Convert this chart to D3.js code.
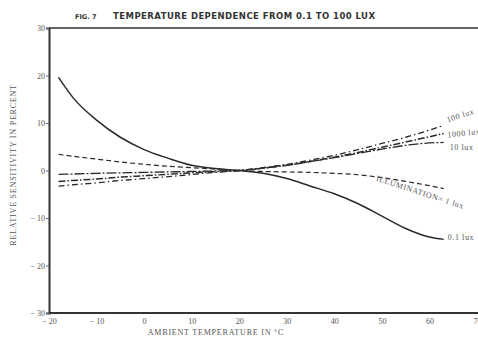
<!DOCTYPE html>
<html>
<head>
<meta charset="utf-8">
<script src="https://cdn.jsdelivr.net/npm/d3@7"></script>
<style>
body { margin: 0; background: #fff; }
text { font-family: "Liberation Serif", "DejaVu Serif", serif; fill: #555; }
.title { font-family: "DejaVu Sans", "Liberation Sans", sans-serif; font-weight: bold; fill: #333; }
</style>
</head>
<body>
<script>
// temperatures in degrees C, shared by every curve
var temps = [-18, -15, -10, -5, 0, 5, 10, 15, 20, 25, 30, 35, 40, 45, 50, 55, 60, 63];

var lux01   = [19.6, 15.4, 10.6, 7.0, 4.4, 2.6, 1.1, 0.4, 0, -0.6, -1.7, -3.3, -4.9, -7.0, -9.6, -12.2, -14.0, -14.5];
var lux1    = [3.4, 3.0, 2.4, 1.8, 1.3, 0.9, 0.6, 0.3, 0, -0.2, -0.3, -0.4, -0.6, -0.9, -1.5, -2.3, -3.2, -3.8];
var lux10   = [-0.8, -0.75, -0.6, -0.5, -0.4, -0.3, -0.2, -0.1, 0, 0.5, 1.1, 1.9, 2.7, 3.6, 4.5, 5.3, 5.8, 5.9];
var lux1000 = [-2.3, -2.1, -1.8, -1.4, -1.1, -0.8, -0.5, -0.25, 0, 0.5, 1.1, 1.9, 2.8, 3.8, 4.9, 6.0, 7.1, 7.8];
var lux100  = [-3.3, -3.0, -2.6, -2.1, -1.7, -1.3, -0.85, -0.4, 0, 0.6, 1.3, 2.2, 3.2, 4.4, 5.7, 7.0, 8.5, 9.5];

var seriesNames = ["0.1 lux", "ILLUMINATION= 1 lux", "10 lux", "1000 lux", "100 lux"];
var xTicks = [-20, -10, 0, 10, 20, 30, 40, 50, 60, 70];
var yTicks = [-30, -20, -10, 0, 10, 20, 30];

var series = [lux01, lux1, lux10, lux1000, lux100];

// drawing styles for each curve and where its label sits next to the end point
var styles = [
  {dash: null,          width: 1.5, dx: 4,   dy: 1,  rot: 0},
  {dash: "5,3",         width: 1.2, dx: -68, dy: -8, rot: 18},
  {dash: "10,2,2,2",    width: 1.3, dx: 6,   dy: 8,  rot: 0},
  {dash: "7,2,1.5,2",   width: 1.5, dx: 4,   dy: 4,  rot: -6},
  {dash: "6,3,1.5,3",   width: 1.3, dx: 4,   dy: -3, rot: -18}
];

var W = 478, H = 343;

var svg = d3.select("body").append("svg")
    .attr("width", W)
    .attr("height", H);

var x = d3.scaleLinear().domain([-20, 70]).range([49, 477]);
var y = d3.scaleLinear().domain([-30, 30]).range([313, 28]);

var fmt = function(d) { return d < 0 ? "\u2212 " + Math.abs(d) : d; };

// frame: top and bottom run off the right edge
svg.append("line")
    .attr("x1", x(-20)).attr("x2", W)
    .attr("y1", y(30)).attr("y2", y(30))
    .attr("stroke", "#333").attr("stroke-width", 1.5);

var yAxis = svg.append("g")
    .attr("transform", "translate(" + x(-20) + ",0)")
    .attr("color", "#666")
    .call(d3.axisLeft(y).tickValues(yTicks).tickFormat(fmt).tickSize(3).tickPadding(1));
yAxis.select(".domain").attr("stroke", "#333").attr("stroke-width", 2);
yAxis.selectAll("text").attr("font-size", 8)
    .style("font-family", "Liberation Serif, serif");

var xAxis = svg.append("g")
    .attr("transform", "translate(0," + y(-30) + ")")
    .attr("color", "#777")
    .call(d3.axisBottom(x).tickValues(xTicks).tickFormat(fmt).tickSize(0).tickPadding(5));
xAxis.select(".domain").attr("stroke", "#333").attr("stroke-width", 2)
    .attr("d", "M" + x(-20) + ",0H" + W);
xAxis.selectAll("text").attr("font-size", 8)
    .style("font-family", "Liberation Serif, serif");

// curves
var line = d3.line()
    .x(function(d) { return x(d[0]); })
    .y(function(d) { return y(d[1]); })
    .curve(d3.curveMonotoneX);

series.forEach(function(vals, i) {
  var pts = temps.map(function(t, j) { return [t, vals[j]]; });
  var s = styles[i];
  svg.append("path")
      .datum(pts)
      .attr("d", line)
      .attr("fill", "none")
      .attr("stroke", "#2a2a2a")
      .attr("stroke-width", s.width)
      .attr("stroke-dasharray", s.dash);

  var last = pts[pts.length - 1];
  var lx = x(last[0]) + s.dx, ly = y(last[1]) + s.dy;
  svg.append("text")
      .attr("transform", "translate(" + lx + "," + ly + ") rotate(" + s.rot + ")")
      .attr("font-size", 8)
      .attr("letter-spacing", 0.6)
      .attr("fill", "#555")
      .text(seriesNames[i]);
});

// titles
svg.append("text")
    .attr("class", "title")
    .attr("x", 75).attr("y", 19)
    .attr("font-size", 6.5)
    .text("FIG. 7");
svg.append("text")
    .attr("class", "title")
    .attr("x", 113).attr("y", 19)
    .attr("font-size", 8.5)
    .attr("textLength", 262)
    .text("TEMPERATURE DEPENDENCE FROM 0.1 TO 100 LUX");

svg.append("text")
    .attr("x", 216).attr("y", 335)
    .attr("text-anchor", "middle")
    .attr("font-size", 8)
    .attr("letter-spacing", 0.8)
    .attr("fill", "#777")
    .text("AMBIENT TEMPERATURE IN \u00B0C");

svg.append("text")
    .attr("transform", "translate(16,165) rotate(-90)")
    .attr("text-anchor", "middle")
    .attr("font-size", 8)
    .attr("letter-spacing", 0.8)
    .attr("fill", "#666")
    .text("RELATIVE SENSITIVITY IN PERCENT");
</script>
</body>
</html>
